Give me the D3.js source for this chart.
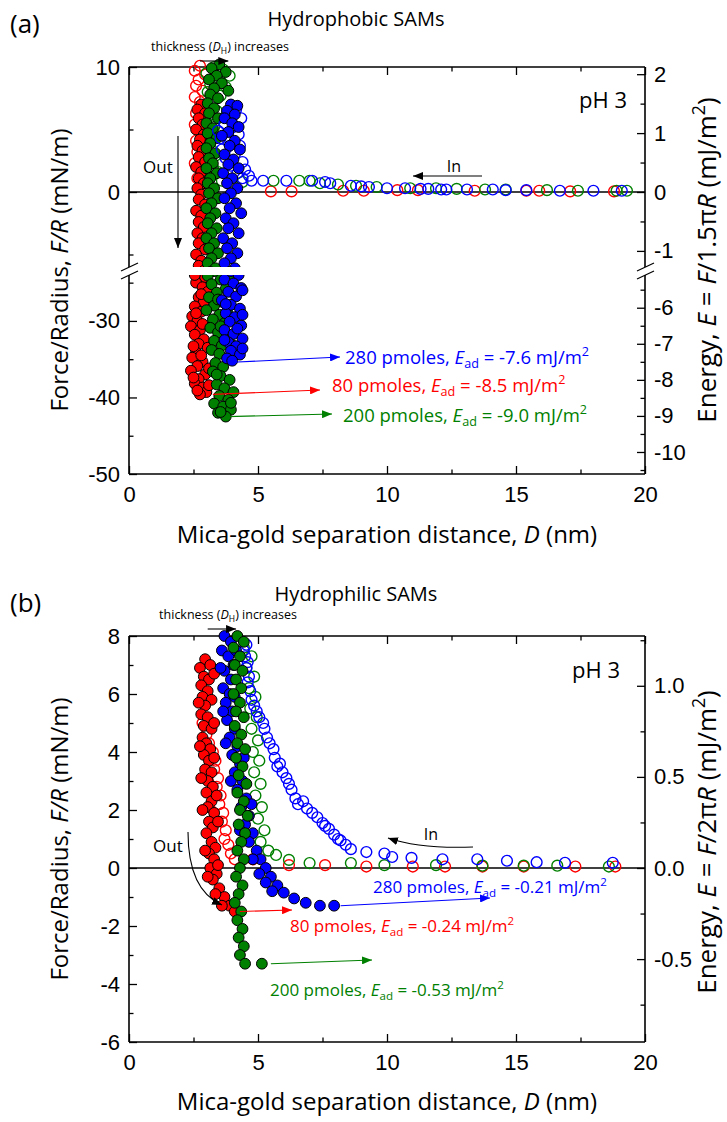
<!DOCTYPE html>
<html><head><meta charset="utf-8">
<script src="https://cdn.jsdelivr.net/npm/d3@7"></script>
<style>body{margin:0;background:#fff} svg{display:block}</style>
</head><body><svg id="c" width="727" height="1122"></svg>
<script>
// ---------------- DATA ----------------
const xMajor = [0, 5, 10, 15, 20];
const xMinor = [2.5, 7.5, 12.5, 17.5];
// panel (a) ticks (F/R in mN/m, E in mJ/m2)
const aLeftMajorU = [10, 0], aLeftMinorU = [5, -5];
const aLeftMajorL = [-30, -40, -50], aLeftMinorL = [-25, -35, -45];
const aRightMajorU = [2, 1, 0, -1], aRightMinorU = [1.5, 0.5, -0.5];
const aRightMajorL = [-6, -7, -8, -9, -10], aRightMinorL = [-5.5, -6.5, -7.5, -8.5, -9.5, -10.5];
// panel (b) ticks
const bLeftMajor = [8, 6, 4, 2, 0, -2, -4, -6], bLeftMinor = [7, 5, 3, 1, -1, -3, -5];
const bRightMajor = [1.0, 0.5, 0.0, -0.5], bRightMinor = [1.25, 0.75, 0.25, -0.25, -0.75];

// panel (a) series: [D (nm), F/R (mN/m)]
const aRedIn = [[2.75,10.1],[2.55,9.7],[2.95,9.4],[2.70,9.0],[2.60,8.5],[2.85,8.1],[2.55,7.6],[2.75,7.2],[2.95,6.8],[2.60,6.3],[2.80,5.9],[2.55,5.4],[2.75,5.0],[2.90,4.5],[2.60,4.1],[2.80,3.6],[2.65,3.2],[2.85,2.7],[2.55,2.3],[2.75,1.9],[2.95,1.5],[2.65,1.1],[2.80,0.8],[3.00,0.5],[2.70,0.3],
  [5.5,0.05],[6.3,0.05],[8.3,0.1],[9.1,0.1],[10.4,0.15],[11.2,0.15],[13.4,0.1],[15.4,0.1],[15.9,0.1],[17.1,0.05],[18.8,0.05]];
const aRedOut = [[2.80,7.0],[2.65,6.6],[2.95,6.3],[2.70,5.9],[2.85,5.4],[2.60,5.0],[2.90,4.6],[2.75,4.2],[2.65,3.7],[2.85,3.3],[2.70,2.8],[2.95,2.4],[2.60,2.0],[2.80,1.6],[2.70,1.1],[2.90,0.7],[2.65,0.3],[2.80,-0.2],[2.70,-0.6],[2.95,-1.0],[2.60,-1.5],[2.80,-1.9],[2.70,-2.4],[2.90,-2.8],[2.65,-3.3],[2.85,-3.7],[2.70,-4.1],[2.95,-4.6],[2.60,-5.0],[2.80,-5.5],[2.70,-5.9],[2.90,-6.3],
  [2.75,-23.6],[2.95,-24.3],[2.60,-25.0],[2.85,-25.6],[3.05,-26.2],[2.70,-26.9],[2.90,-27.5],[2.55,-28.1],[2.80,-28.8],[2.45,-29.4],[2.65,-30.0],[2.40,-30.7],[2.75,-31.2],[2.55,-31.8],[2.90,-32.4],[2.70,-33.0],[3.05,-33.5],[2.60,-34.1],[2.45,-34.8],[2.85,-35.3],[2.65,-35.9],[2.40,-36.5],[2.95,-37.0],[2.70,-37.6],[2.55,-38.2],[2.85,-38.7],[3.00,-39.3],[2.75,-39.6],
  [2.55,-24.0],[2.80,-26.5],[2.60,-29.0],[2.85,-30.4],[2.50,-33.3],[2.80,-34.5],[3.10,-36.2],[2.50,-37.4],[3.10,-38.4],[2.65,-39.1]];
const aGreenIn = [[3.30,10.0],[3.65,9.8],[3.00,9.5],[3.90,9.3],[3.45,9.0],[3.15,8.6],[3.75,8.4],[3.05,8.0],[3.55,7.7],[3.20,7.3],[2.95,6.9],[3.40,6.5],[3.10,6.1],[3.00,5.6],[3.30,5.2],[3.05,4.7],[3.25,4.3],[2.95,3.8],[3.20,3.4],[3.35,2.9],[3.05,2.5],[3.25,2.0],[3.45,1.6],[3.15,1.2],[3.60,0.9],[4.00,0.7],[4.40,0.8],
  [5.6,0.9],[6.6,0.9],[7.0,0.9],[7.4,0.7],[8.1,0.6],[8.8,0.5],[9.6,0.4],[10.9,0.3],[11.9,0.3],[12.7,0.25],[13.8,0.2],[14.6,0.2],[16.2,0.15],[17.4,0.1],[18.9,0.1],[19.3,0.1]];
const aGreenOut = [[3.50,10.2],[3.20,9.9],[3.75,9.6],[3.40,9.3],[3.10,9.0],[3.60,8.7],[3.30,8.3],[3.85,8.1],[3.15,7.8],[3.45,7.5],[3.05,7.1],[3.30,6.7],[3.10,6.3],[3.45,5.9],[3.00,5.5],[3.25,5.1],[3.05,4.7],[3.40,4.3],[3.15,3.9],[3.00,3.5],[3.35,3.1],[3.10,2.7],[3.25,2.3],[3.00,1.9],[3.40,1.5],[3.15,1.1],[3.05,0.7],[3.30,0.3],[3.10,-0.1],[3.45,-0.5],[3.20,-0.9],[3.00,-1.3],[3.35,-1.7],[3.15,-2.1],[3.05,-2.5],[3.40,-2.9],[3.20,-3.3],[3.00,-3.7],[3.30,-4.1],[3.10,-4.5],[3.45,-4.9],[3.20,-5.3],[3.05,-5.7],[3.35,-6.1],[3.15,-6.4],
  [3.30,-23.5],[3.05,-24.1],[3.55,-24.6],[3.20,-25.2],[3.75,-25.8],[3.40,-26.3],[3.10,-26.9],[3.60,-27.5],[3.30,-28.0],[3.00,-28.6],[3.50,-29.2],[3.25,-29.8],[3.70,-30.3],[3.15,-30.9],[3.45,-31.5],[3.80,-32.0],[3.30,-32.6],[3.60,-33.2],[3.20,-33.8],[3.50,-34.3],[3.85,-34.9],[3.35,-35.5],[3.65,-36.0],[3.25,-36.6],[3.55,-37.2],[3.90,-37.7],[3.40,-38.3],[3.70,-38.8],[4.05,-39.3],[3.50,-39.8],[3.85,-40.3],[3.30,-40.8],[3.65,-41.2],[3.95,-41.6],[3.45,-42.0],[3.75,-42.5],
  [3.85,-24.3],[3.45,-27.2],[3.80,-28.8],[3.55,-30.7],[3.95,-33.0],[3.40,-37.0],[3.95,-40.7],[3.55,-41.9]];
const aBlueIn = [[4.15,6.6],[3.90,6.2],[4.35,5.9],[3.70,5.5],[4.05,5.2],[3.45,4.9],[4.25,4.6],[3.55,4.3],[3.85,4.0],[4.30,3.7],[3.60,3.4],[4.10,3.0],[3.75,2.7],[4.40,2.4],[3.95,2.1],[4.50,1.8],[4.20,1.5],[4.65,1.3],[4.40,1.1],[4.75,0.9],
  [5.2,0.9],[6.1,0.9],[7.1,0.9],[7.6,0.8],[7.8,0.7],[8.6,0.5],[9.0,0.45],[9.3,0.4],[10.0,0.3],[10.7,0.3],[11.3,0.25],[11.6,0.25],[12.1,0.2],[12.3,0.2],[13.1,0.2],[14.1,0.2],[14.6,0.15],[15.4,0.15],[16.7,0.1],[18.0,0.1],[19.1,0.1]];
const aBlueOut = [[3.95,7.0],[4.20,6.9],[3.80,6.5],[4.10,6.2],[3.70,5.9],[4.00,5.5],[4.25,5.2],[3.85,4.8],[3.60,4.5],[4.10,4.1],[3.90,3.7],[4.30,3.4],[3.70,3.0],[4.05,2.6],[3.85,2.2],[4.25,1.9],[3.65,1.5],[4.00,1.1],[3.80,0.7],[4.20,0.3],[3.95,-0.1],[3.70,-0.5],[4.15,-0.9],[3.90,-1.3],[4.35,-1.7],[3.75,-2.1],[4.05,-2.5],[3.85,-2.9],[4.25,-3.3],[3.65,-3.7],[4.00,-4.1],[3.80,-4.5],[4.20,-4.9],[3.95,-5.3],[3.70,-5.7],[4.10,-6.1],[3.90,-6.4],
  [3.95,-23.5],[4.25,-24.0],[3.70,-24.6],[4.05,-25.1],[4.35,-25.7],[3.85,-26.2],[4.15,-26.8],[3.60,-27.3],[3.95,-27.9],[4.30,-28.4],[3.75,-29.0],[4.10,-29.5],[3.90,-30.1],[4.35,-30.6],[3.70,-31.2],[4.05,-31.7],[4.40,-32.3],[3.85,-32.8],[4.15,-33.3],[3.95,-33.9],[4.30,-34.4],[3.80,-34.9],[4.00,-35.2],
  [4.40,-26.0],[3.75,-27.8],[4.40,-29.2],[4.20,-31.0],[3.70,-32.5],[4.40,-33.6]];

// panel (b) series
const bRedIn = [[2.85,5.0],[3.00,4.6],[3.10,4.3],[3.25,4.0],[3.35,3.7],[3.30,3.4],[3.45,3.1],[3.40,2.8],[3.55,2.5],[3.50,2.2],[3.65,1.9],[3.60,1.6],[3.75,1.3],[3.70,1.0],[3.85,0.8],[3.95,0.5],[4.10,0.3],
  [4.8,0.3],[6.2,0.1],[7.6,0.1],[9.2,0.05],[11.0,0.05],[12.25,0.05],[13.7,0.05],[15.3,0.05],[17.3,0.05],[18.85,0.05]];
const bRedOut = [[2.95,7.2],[2.75,6.9],[3.15,7.0],[2.90,6.6],[3.10,6.5],[2.80,6.3],[3.05,6.1],[2.85,5.9],[3.20,5.8],[2.95,5.6],[2.80,5.3],[3.05,5.2],[2.90,4.9],[3.20,4.8],[2.85,4.5],[3.00,4.3],[3.15,4.1],[2.90,3.9],[3.10,3.7],[2.95,3.4],[3.20,3.3],[3.05,3.0],[3.25,2.8],[3.00,2.6],[3.20,2.3],[3.05,2.1],[3.30,1.9],[3.10,1.6],[3.25,1.4],[3.00,1.2],[3.20,0.9],[3.35,0.7],[3.10,0.5],[3.30,0.3],[3.15,0.0],[3.40,-0.2],[3.25,-0.4],[3.50,-0.7],[3.70,-1.0],[3.90,-1.3],[4.10,-1.5],
  [3.30,6.7],[2.70,5.7],[3.30,5.0],[2.75,4.2],[3.30,3.8],[2.80,3.1],[3.40,2.5],[2.85,2.0],[3.45,1.6],[2.95,0.6],[3.45,0.1],[3.05,-0.3],[3.35,-0.9],[3.60,-1.3]];
const bGreenIn = [[4.45,7.6],[4.75,7.3],[4.55,6.9],[4.85,6.6],[4.65,6.2],[4.90,5.9],[4.70,5.5],[4.95,5.2],[4.75,4.8],[5.00,4.4],[4.80,4.0],[5.05,3.7],[4.85,3.3],[5.10,2.9],[4.90,2.5],[5.15,2.1],[5.00,1.7],[5.25,1.3],[5.10,0.9],[5.40,0.6],[5.70,0.45],
  [6.2,0.28],[7.0,0.17],[8.6,0.17],[9.9,0.1],[11.9,0.1],[13.7,0.08],[15.3,0.08],[16.6,0.08],[18.6,0.05]];
const bGreenOut = [[4.20,8.0],[4.45,7.8],[4.05,7.6],[4.30,7.3],[4.10,7.0],[4.40,6.8],[4.15,6.5],[4.35,6.2],[4.05,6.0],[4.30,5.7],[4.15,5.4],[4.45,5.2],[4.10,4.9],[4.35,4.6],[4.20,4.3],[4.50,4.1],[4.15,3.8],[4.40,3.5],[4.25,3.2],[4.55,2.9],[4.20,2.6],[4.45,2.3],[4.30,2.0],[4.60,1.8],[4.25,1.5],[4.50,1.2],[4.35,0.9],[4.20,0.6],[4.45,0.3],[4.30,0.0],[4.15,-0.3],[4.40,-0.6],[4.25,-0.9],[4.10,-1.2],[4.35,-1.5],[4.20,-1.8],[4.40,-2.1],[4.25,-2.4],[4.45,-2.7],[4.30,-3.0],[4.50,-3.3],[5.15,-3.3]];
const bBlueIn = [[4.55,7.7],[4.45,7.5],[4.50,7.3],[4.60,7.1],[4.55,6.9],[4.65,6.6],[4.60,6.4],[4.70,6.1],[4.75,5.8],[4.85,5.6],[4.95,5.4],[5.05,5.2],[5.20,5.0],[5.25,4.8],[5.35,4.5],[5.45,4.3],[5.60,4.1],[5.65,3.8],[5.75,3.5],[5.85,3.6],[5.95,3.3],[6.10,3.1],[6.20,2.9],[6.30,2.7],[6.45,2.4],[6.55,2.2],[6.75,2.3],[6.90,2.05],[7.10,1.9],[7.30,1.75],[7.50,1.55],[7.60,1.45],[7.75,1.35],[7.95,1.15],[8.10,1.0],[8.20,0.95],[8.40,0.8],[8.60,0.65],[9.20,0.55],[9.90,0.5],[10.20,0.38],[10.95,0.35],[12.15,0.3],[13.50,0.3],[14.65,0.25],[15.80,0.2],[16.90,0.18],[18.75,0.18]];
const bBlueOut = [[3.70,8.0],[3.95,7.8],[3.60,7.5],[3.85,7.3],[4.05,7.0],[3.70,6.8],[3.95,6.5],[3.65,6.2],[3.90,6.0],[3.75,5.7],[4.00,5.4],[3.80,5.1],[4.10,4.8],[3.90,4.5],[4.20,4.2],[4.00,3.9],[4.30,3.6],[4.10,3.3],[4.40,3.0],[4.20,2.7],[4.55,2.4],[4.35,2.1],[4.65,1.8],[4.50,1.5],[4.80,1.2],[4.65,0.9],[4.95,0.6],[5.10,0.3],[5.30,0.0],[5.50,-0.3],[5.75,-0.6],[6.00,-0.85],[6.40,-1.05],[6.85,-1.2],[7.40,-1.3],[7.95,-1.3],
  [4.15,7.5],[3.55,6.9],[4.10,5.9],[3.65,5.4],[3.75,4.3],[4.45,3.8],[3.95,3.0],[4.75,2.2],[4.30,1.3],[4.80,0.3],[5.05,-0.2],[5.30,-0.5],[5.55,-0.8]];

// ---------------- DRAW ----------------
const svg = d3.select('#c');
const FT = "'Open Sans','Noto Sans',sans-serif";
const FN = "'Liberation Sans',Arial,sans-serif";
const RED = '#ff0000', GREEN = '#008000', BLUE = '#0000ff';
const X0 = 129, X1 = 645;
const x = d3.scaleLinear().domain([0, 20]).range([X0, X1]);

const defs = svg.append('defs');
function marker(id, color) {
  defs.append('marker').attr('id', id).attr('viewBox', '0 0 10 8').attr('refX', 10).attr('refY', 4)
    .attr('markerWidth', 10).attr('markerHeight', 8).attr('markerUnits', 'userSpaceOnUse').attr('orient', 'auto')
    .append('path').attr('d', 'M0,0L10,4L0,8Z').attr('fill', color);
}
marker('mk', '#000'); marker('mr', RED); marker('mg', GREEN); marker('mb', BLUE);

function rich(g, px, py, parts, size, color, anchor, rot) {
  const t = g.append('text').attr('x', px).attr('y', py).attr('font-family', FT).attr('font-size', size)
    .attr('fill', color || '#000').attr('text-anchor', anchor || 'start');
  if (rot) t.attr('transform', `rotate(${rot},${px},${py})`);
  let shift = 0;
  parts.forEach(p => {
    const o = typeof p === 'string' ? { t: p } : p;
    const s = o.sub ? size * 0.24 : o.sup ? -size * 0.42 : 0;
    const ts = t.append('tspan').text(o.t).attr('dy', s - shift);
    shift = s;
    if (o.i) ts.attr('font-style', 'italic');
    if (o.sub || o.sup) ts.attr('font-size', size * 0.68);
  });
  return t;
}

function dots(g, data, color, filled, yf) {
  g.selectAll(null).data(data).join('circle')
    .attr('cx', d => x(d[0])).attr('cy', d => yf(d[1])).attr('r', 5.4)
    .attr('fill', filled ? color : 'none')
    .attr('stroke', filled ? '#000' : color).attr('stroke-width', filled ? 1 : 1.4);
}

function tickAxis(g, gen, tx, ty, labels, fmt) {
  const a = g.append('g').attr('transform', `translate(${tx},${ty})`).call(gen.tickFormat(labels ? fmt : ''));
  a.select('.domain').remove();
  a.selectAll('line').attr('stroke', '#000').attr('stroke-width', 1.3);
  a.selectAll('text').attr('font-family', FN).attr('font-size', 22).attr('fill', '#000');
  return a;
}

function panel(P) {
  const g = svg.append('g');
  const top = P.segs[0].y.range()[1], bot = P.segs[P.segs.length - 1].y.range()[0];
  tickAxis(g, d3.axisBottom(x).tickValues(xMajor).tickSize(-8).tickPadding(12), 0, bot, true, d => String(d));
  tickAxis(g, d3.axisBottom(x).tickValues(xMinor).tickSize(-4.5), 0, bot, false);
  tickAxis(g, d3.axisTop(x).tickValues(xMajor).tickSize(-8), 0, top, false);
  tickAxis(g, d3.axisTop(x).tickValues(xMinor).tickSize(-4.5), 0, top, false);
  g.append('line').attr('x1', X0).attr('x2', X1).attr('y1', bot).attr('y2', bot).attr('stroke', '#000').attr('stroke-width', 1.6);
  g.append('line').attr('x1', X0).attr('x2', X1).attr('y1', top).attr('y2', top).attr('stroke', '#000').attr('stroke-width', 1.6);
  P.segs.forEach(s => {
    const yE = d3.scaleLinear().domain(s.y.domain().map(v => v / P.k)).range(s.y.range());
    tickAxis(g, d3.axisLeft(s.y).tickValues(s.lM).tickSize(-8).tickPadding(9), X0, 0, true, d => String(d));
    tickAxis(g, d3.axisLeft(s.y).tickValues(s.lm).tickSize(-4.5), X0, 0, false);
    tickAxis(g, d3.axisRight(yE).tickValues(s.rM).tickSize(-8).tickPadding(9), X1, 0, true, P.rfmt);
    tickAxis(g, d3.axisRight(yE).tickValues(s.rm).tickSize(-4.5), X1, 0, false);
    const [b, t] = s.y.range();
    [X0, X1].forEach(xx => g.append('line').attr('x1', xx).attr('x2', xx).attr('y1', t).attr('y2', b).attr('stroke', '#000').attr('stroke-width', 1.6));
  });
  if (P.segs.length > 1) {
    const yb1 = P.segs[0].y.range()[0], yb2 = P.segs[1].y.range()[1];
    [X0, X1].forEach(xx => {
      [yb1, yb2].forEach(yy => g.append('line').attr('x1', xx - 8).attr('x2', xx + 9).attr('y1', yy + 4).attr('y2', yy - 4)
        .attr('stroke', '#000').attr('stroke-width', 1.3));
    });
  }
  const y0 = P.segs[0].y(0);
  g.append('line').attr('x1', X0).attr('x2', X1).attr('y1', y0).attr('y2', y0).attr('stroke', '#000').attr('stroke-width', 1.3);
  P.segs.forEach((s, i) => {
    const id = P.id + 'clip' + i;
    const [b, t] = s.y.range();
    defs.append('clipPath').attr('id', id).append('rect').attr('x', 0).attr('width', 727)
      .attr('y', i === 0 ? 0 : t).attr('height', i === 0 ? (P.segs.length > 1 ? b : 1122) : 1122 - t);
    const gg = g.append('g').attr('clip-path', `url(#${id})`);
    P.series.forEach(se => dots(gg, se.data.filter(d => s.has(d[1])), se.color, se.filled, s.y));
  });
  return g;
}

// ---------- Panel (a) ----------
const KA = 1.5 * Math.PI, KB = 2 * Math.PI;
const yAU = d3.scaleLinear().domain([-6, 10]).range([267, 67]);
const yAL = d3.scaleLinear().domain([-50, -24]).range([474, 275]);
const yA = f => f > -15 ? yAU(f) : yAL(f);
panel({ id: 'a', k: KA, rfmt: d => String(d),
  segs: [
    { y: yAU, has: f => f > -15, lM: aLeftMajorU, lm: aLeftMinorU, rM: aRightMajorU, rm: aRightMinorU },
    { y: yAL, has: f => f <= -15, lM: aLeftMajorL, lm: aLeftMinorL, rM: aRightMajorL, rm: aRightMinorL }],
  series: [
    { data: aRedIn, color: RED, filled: false }, { data: aGreenIn, color: GREEN, filled: false },
    { data: aRedOut, color: RED, filled: true }, { data: aGreenOut, color: GREEN, filled: true },
    { data: aBlueIn, color: BLUE, filled: false }, { data: aBlueOut, color: BLUE, filled: true }]
});

// ---------- Panel (b) ----------
const yB = d3.scaleLinear().domain([-6, 8]).range([1042, 636]);
panel({ id: 'b', k: KB, rfmt: d => d.toFixed(1),
  segs: [{ y: yB, has: f => true, lM: bLeftMajor, lm: bLeftMinor, rM: bRightMajor, rm: bRightMinor }],
  series: [
    { data: bRedIn, color: RED, filled: false }, { data: bRedOut, color: RED, filled: true },
    { data: bGreenIn, color: GREEN, filled: false }, { data: bBlueIn, color: BLUE, filled: false },
    { data: bBlueOut, color: BLUE, filled: true }, { data: bGreenOut, color: GREEN, filled: true }]
});

// ---------- Text & annotations ----------
const T = svg.append('g');
function arrow(x1, y1, x2, y2, mk, color, w) {
  T.append('line').attr('x1', x1).attr('y1', y1).attr('x2', x2).attr('y2', y2)
    .attr('stroke', color).attr('stroke-width', w || 1.1).attr('marker-end', `url(#${mk})`);
}
function curve(d, mk) {
  T.append('path').attr('d', d).attr('fill', 'none').attr('stroke', '#000').attr('stroke-width', 1.1).attr('marker-end', `url(#${mk})`);
}
rich(T, 10, 33, ['(a)'], 26);
rich(T, 356, 26, ['Hydrophobic SAMs'], 20, '#000', 'middle');
rich(T, 10, 612, ['(b)'], 26);
rich(T, 356, 601, ['Hydrophilic SAMs'], 20, '#000', 'middle');
rich(T, 387, 543, ['Mica-gold separation distance, ', { t: 'D', i: 1 }, ' (nm)'], 24, '#000', 'middle');
rich(T, 387, 1110, ['Mica-gold separation distance, ', { t: 'D', i: 1 }, ' (nm)'], 24, '#000', 'middle');
rich(T, 68, 270, ['Force/Radius, ', { t: 'F/R', i: 1 }, ' (mN/m)'], 24, '#000', 'middle', -90);
rich(T, 68, 839, ['Force/Radius, ', { t: 'F/R', i: 1 }, ' (mN/m)'], 24, '#000', 'middle', -90);
rich(T, 716, 260, ['Energy, ', { t: 'E', i: 1 }, ' = ', { t: 'F', i: 1 }, '/1.5\u03c0', { t: 'R', i: 1 }, ' (mJ/m', { t: '2', sup: 1 }, ')'], 26, '#000', 'middle', -90);
rich(T, 716, 842, ['Energy, ', { t: 'E', i: 1 }, ' = ', { t: 'F', i: 1 }, '/2\u03c0', { t: 'R', i: 1 }, ' (mJ/m', { t: '2', sup: 1 }, ')'], 26, '#000', 'middle', -90);
rich(T, 220, 51, ['thickness (', { t: 'D', i: 1 }, { t: 'H', sub: 1 }, ') increases'], 12.5, '#000', 'middle');
arrow(x(2.75), 61, x(3.85), 61, 'mk', '#000');
rich(T, 228, 619, ['thickness (', { t: 'D', i: 1 }, { t: 'H', sub: 1 }, ') increases'], 12.5, '#000', 'middle');
arrow(x(3.05), 629, x(4.15), 629, 'mk', '#000');
rich(T, 627, 108, ['pH 3'], 22, '#000', 'end');
rich(T, 620, 678, ['pH 3'], 22, '#000', 'end');
rich(T, 143, 173, ['Out'], 17);
arrow(178, 136, 178, 248, 'mk', '#000');
rich(T, 454, 172, ['In'], 16, '#000', 'middle');
arrow(482, 176, 413, 176, 'mk', '#000');
rich(T, 153, 852, ['Out'], 17);
curve('M188,832 Q188,890 222,905', 'mk');
rich(T, 431, 840, ['In'], 16, '#000', 'middle');
curve('M473,847 Q420,849 388,838', 'mk');
arrow(x(4.0), yA(-35.4), 340, 357, 'mb', BLUE);
rich(T, 345, 364, ['280 pmoles, ', { t: 'E', i: 1 }, { t: 'ad', sub: 1 }, ' = -7.6 mJ/m', { t: '2', sup: 1 }], 18.5, BLUE);
arrow(x(3.25), yA(-39.6), 320, 390, 'mr', RED);
rich(T, 332, 392, ['80 pmoles, ', { t: 'E', i: 1 }, { t: 'ad', sub: 1 }, ' = -8.5 mJ/m', { t: '2', sup: 1 }], 18.5, RED);
arrow(x(3.8), yA(-42.5), 332, 414, 'mg', GREEN);
rich(T, 343, 422, ['200 pmoles, ', { t: 'E', i: 1 }, { t: 'ad', sub: 1 }, ' = -9.0 mJ/m', { t: '2', sup: 1 }], 18.5, GREEN);
arrow(x(8.2), yB(-1.3), 490, 898, 'mb', BLUE);
rich(T, 373, 893, ['280 pmoles, ', { t: 'E', i: 1 }, { t: 'ad', sub: 1 }, ' = -0.21 mJ/m', { t: '2', sup: 1 }], 17, BLUE);
arrow(x(4.3), yB(-1.5), 292, 910, 'mr', RED);
rich(T, 290, 932, ['80 pmoles, ', { t: 'E', i: 1 }, { t: 'ad', sub: 1 }, ' = -0.24 mJ/m', { t: '2', sup: 1 }], 17, RED);
arrow(x(5.5), yB(-3.3), 372, 960, 'mg', GREEN);
rich(T, 270, 996, ['200 pmoles, ', { t: 'E', i: 1 }, { t: 'ad', sub: 1 }, ' = -0.53 mJ/m', { t: '2', sup: 1 }], 17, GREEN);
</script></body></html>
